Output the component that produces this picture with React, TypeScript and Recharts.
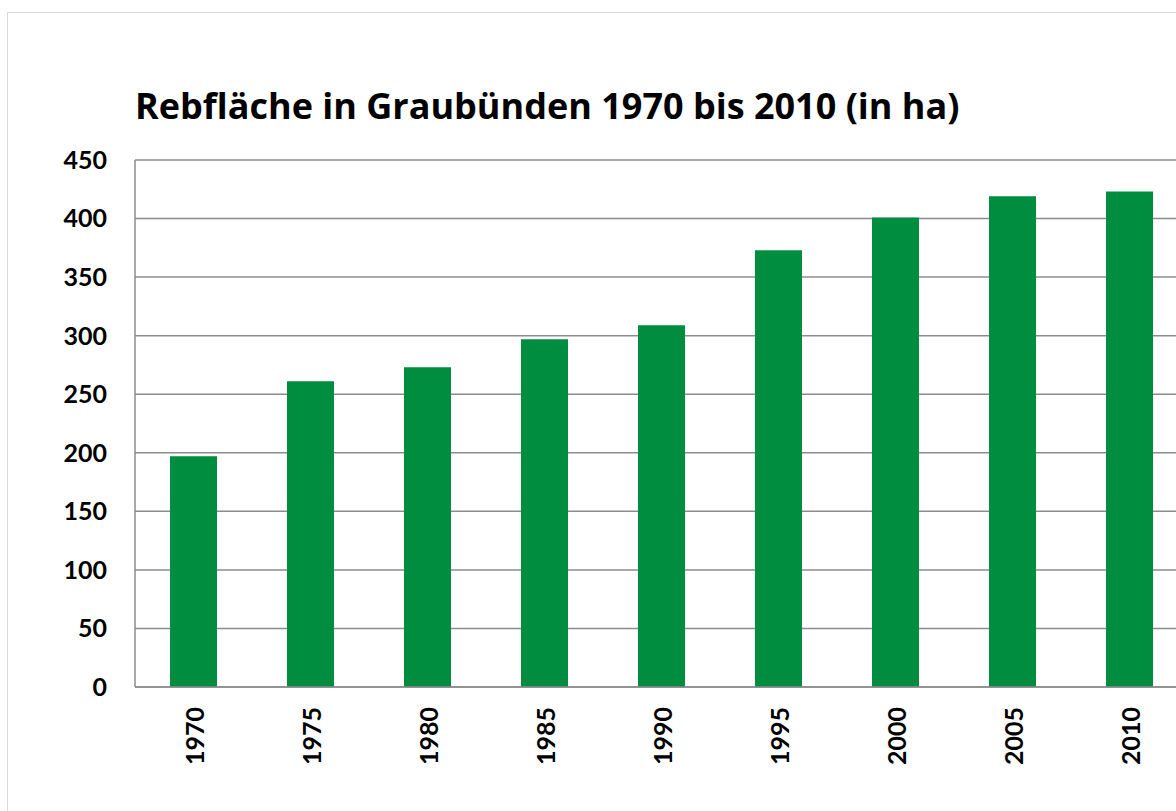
import { Bar, BarChart, CartesianGrid, XAxis, YAxis } from "recharts";

const years = ["1970", "1975", "1980", "1985", "1990", "1995", "2000", "2005", "2010"];
const areaHa = [197, 261, 273, 297, 309, 373, 401, 419, 423];
const yTicks = [0, 50, 100, 150, 200, 250, 300, 350, 400, 450];

const BAR_COLOR = "#008D40";
const FONT = "Lato, 'Open Sans', 'Liberation Sans', sans-serif";
const TITLE_FONT = "'Open Sans', Lato, sans-serif";

const data = years.map((year, i) => ({ year, area: areaHa[i] }));

function YearTick(props: any) {
  const { x, y, payload } = props;
  return (
    <g transform={`translate(${x},${y + 20})`}>
      <text
        transform="rotate(-90)"
        textAnchor="end"
        dominantBaseline="central"
        fontFamily={FONT}
        fontWeight={700}
        fontSize={25}
        fill="#000"
      >
        {payload.value}
      </text>
    </g>
  );
}

export default function App() {
  return (
    <div style={{ position: "absolute", left: 0, top: 0, width: 1176, height: 811, overflow: "hidden", background: "#fff" }}>
      <div
        style={{
          position: "absolute",
          left: 7,
          top: 12,
          width: 1300,
          height: 900,
          border: "1px solid #d9d9d9",
          boxSizing: "border-box",
        }}
      />
      <div
        style={{
          position: "absolute",
          left: 135,
          top: 83,
          fontFamily: TITLE_FONT,
          fontWeight: 700,
          fontSize: 36,
          color: "#000",
          whiteSpace: "nowrap",
          lineHeight: "46px",
        }}
      >
        Rebfläche in Graubünden 1970 bis 2010 (in ha)
      </div>
      <div style={{ position: "absolute", left: 0, top: 0 }}>
        <BarChart
          width={1200}
          height={811}
          data={data}
          margin={{ top: 160, right: 12, left: 0, bottom: 0 }}
          barCategoryGap="20%"
        >
          <CartesianGrid vertical={false} stroke="#8c8c8c" strokeWidth={1.5} />
          <XAxis
            dataKey="year"
            height={124}
            tickLine={false}
            tickSize={0}
            tickMargin={0}
            axisLine={{ stroke: "#8c8c8c", strokeWidth: 1.5 }}
            tick={<YearTick />}
            interval={0}
          />
          <YAxis
            width={135}
            domain={[0, 450]}
            ticks={yTicks}
            tickLine={false}
            tickSize={0}
            tickMargin={28}
            axisLine={{ stroke: "#8c8c8c", strokeWidth: 1.5 }}
            tick={{ fill: "#000", fontSize: 25, fontWeight: 700, fontFamily: FONT }}
            interval={0}
          />
          <Bar dataKey="area" fill={BAR_COLOR} barSize={47} isAnimationActive={false} />
        </BarChart>
      </div>
    </div>
  );
}
